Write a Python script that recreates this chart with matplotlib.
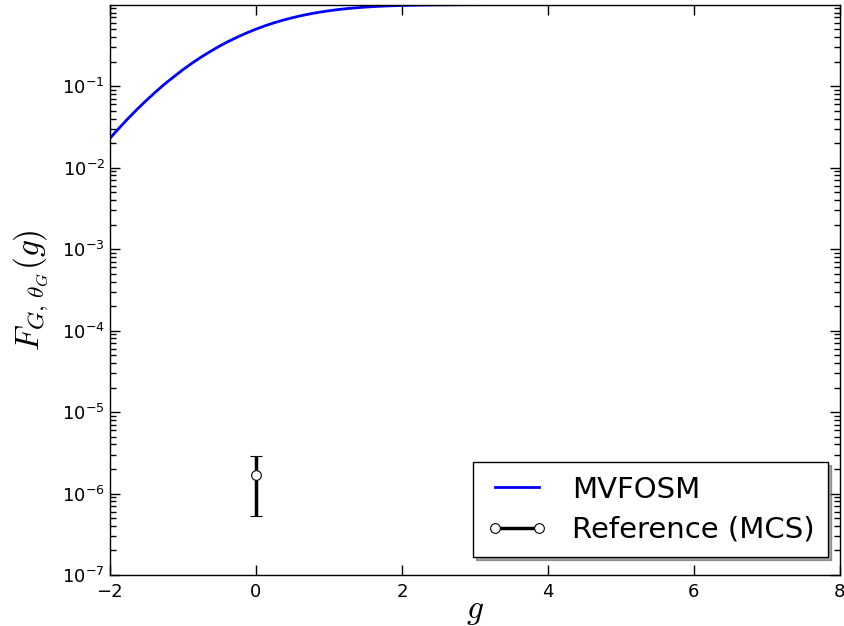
import matplotlib
matplotlib.use("Agg")
import matplotlib.pyplot as plt
from matplotlib.ticker import LogLocator
from matplotlib.lines import Line2D

# MVFOSM curve
g_vals = [-2.0, -1.875, -1.75, -1.625, -1.5, -1.375, -1.25, -1.125, -1.0, -0.875,
          -0.75, -0.625, -0.5, -0.375, -0.25, -0.125, 0.0, 0.125, 0.25, 0.375,
          0.5, 0.625, 0.75, 0.875, 1.0, 1.125, 1.25, 1.375, 1.5, 1.625,
          1.75, 1.875, 2.0, 2.25, 2.5, 2.75, 3.0, 3.25, 3.5, 4.0, 5.0, 6.0, 7.0, 8.0]
F_vals = [0.0228, 0.0304, 0.0401, 0.0521, 0.0668, 0.0846, 0.106, 0.130, 0.159, 0.191,
          0.227, 0.266, 0.309, 0.354, 0.401, 0.450, 0.500, 0.550, 0.599, 0.646,
          0.691, 0.734, 0.773, 0.809, 0.841, 0.870, 0.894, 0.915, 0.933, 0.948,
          0.960, 0.970, 0.977, 0.988, 0.9938, 0.997, 0.9987, 0.9994, 0.9998, 1.0,
          1.0, 1.0, 1.0, 1.0]

# Reference (MCS) point with error bar
ref_g = [0.0]
ref_F = [1.7e-6]
ref_lo = [5.3e-7]
ref_hi = [2.9e-6]

fig = plt.figure(figsize=(8.45, 6.26), dpi=100)
ax = fig.add_axes([0.130, 0.0815, 0.864, 0.9105])

ax.plot(g_vals, F_vals, color="blue", lw=2)
yerr = [[ref_F[0] - ref_lo[0]], [ref_hi[0] - ref_F[0]]]
ax.errorbar(ref_g, ref_F, yerr=yerr, fmt="o", color="black", mfc="white",
            mec="black", ms=7, mew=0.8, elinewidth=2.5, capsize=4, capthick=1.2)

ax.set_yscale("log")
ax.set_xlim(-2, 8)
ax.set_ylim(1e-7, 0.99)
ax.set_xticks([-2, 0, 2, 4, 6, 8])
ax.yaxis.set_major_locator(LogLocator(base=10, numticks=20))
ax.yaxis.set_minor_locator(LogLocator(base=10, subs=range(2, 10), numticks=100))

ax.tick_params(which="both", direction="in", top=True, right=True, labelsize=13)
ax.tick_params(which="major", length=7, width=1)
ax.tick_params(which="minor", length=4, width=1)
ax.tick_params(axis="x", pad=6)
for s in ax.spines.values():
    s.set_linewidth(1)

ax.set_xlabel(r"$g$", fontsize=24, math_fontfamily="cm", labelpad=-5)
ax.set_ylabel(r"$F_{G,\,\theta_G}(g)$", fontsize=24, math_fontfamily="cm", labelpad=8)

handles = [Line2D([], [], color="blue", lw=2),
           Line2D([], [], color="black", lw=2.5, marker="o", mfc="white",
                  mec="black", ms=7, mew=0.8)]
leg = ax.legend(handles, ["MVFOSM", "Reference (MCS)"], loc="lower right",
                bbox_to_anchor=(0.9836, 0.0316), borderaxespad=0,
                fontsize=21, numpoints=2, shadow=True, fancybox=False,
                framealpha=1, handlelength=2.1, borderpad=0.45,
                labelspacing=0.42, handletextpad=0.85)
leg.get_frame().set_edgecolor("black")
leg.get_frame().set_linewidth(1)

fig.savefig("out.png", dpi=100)
